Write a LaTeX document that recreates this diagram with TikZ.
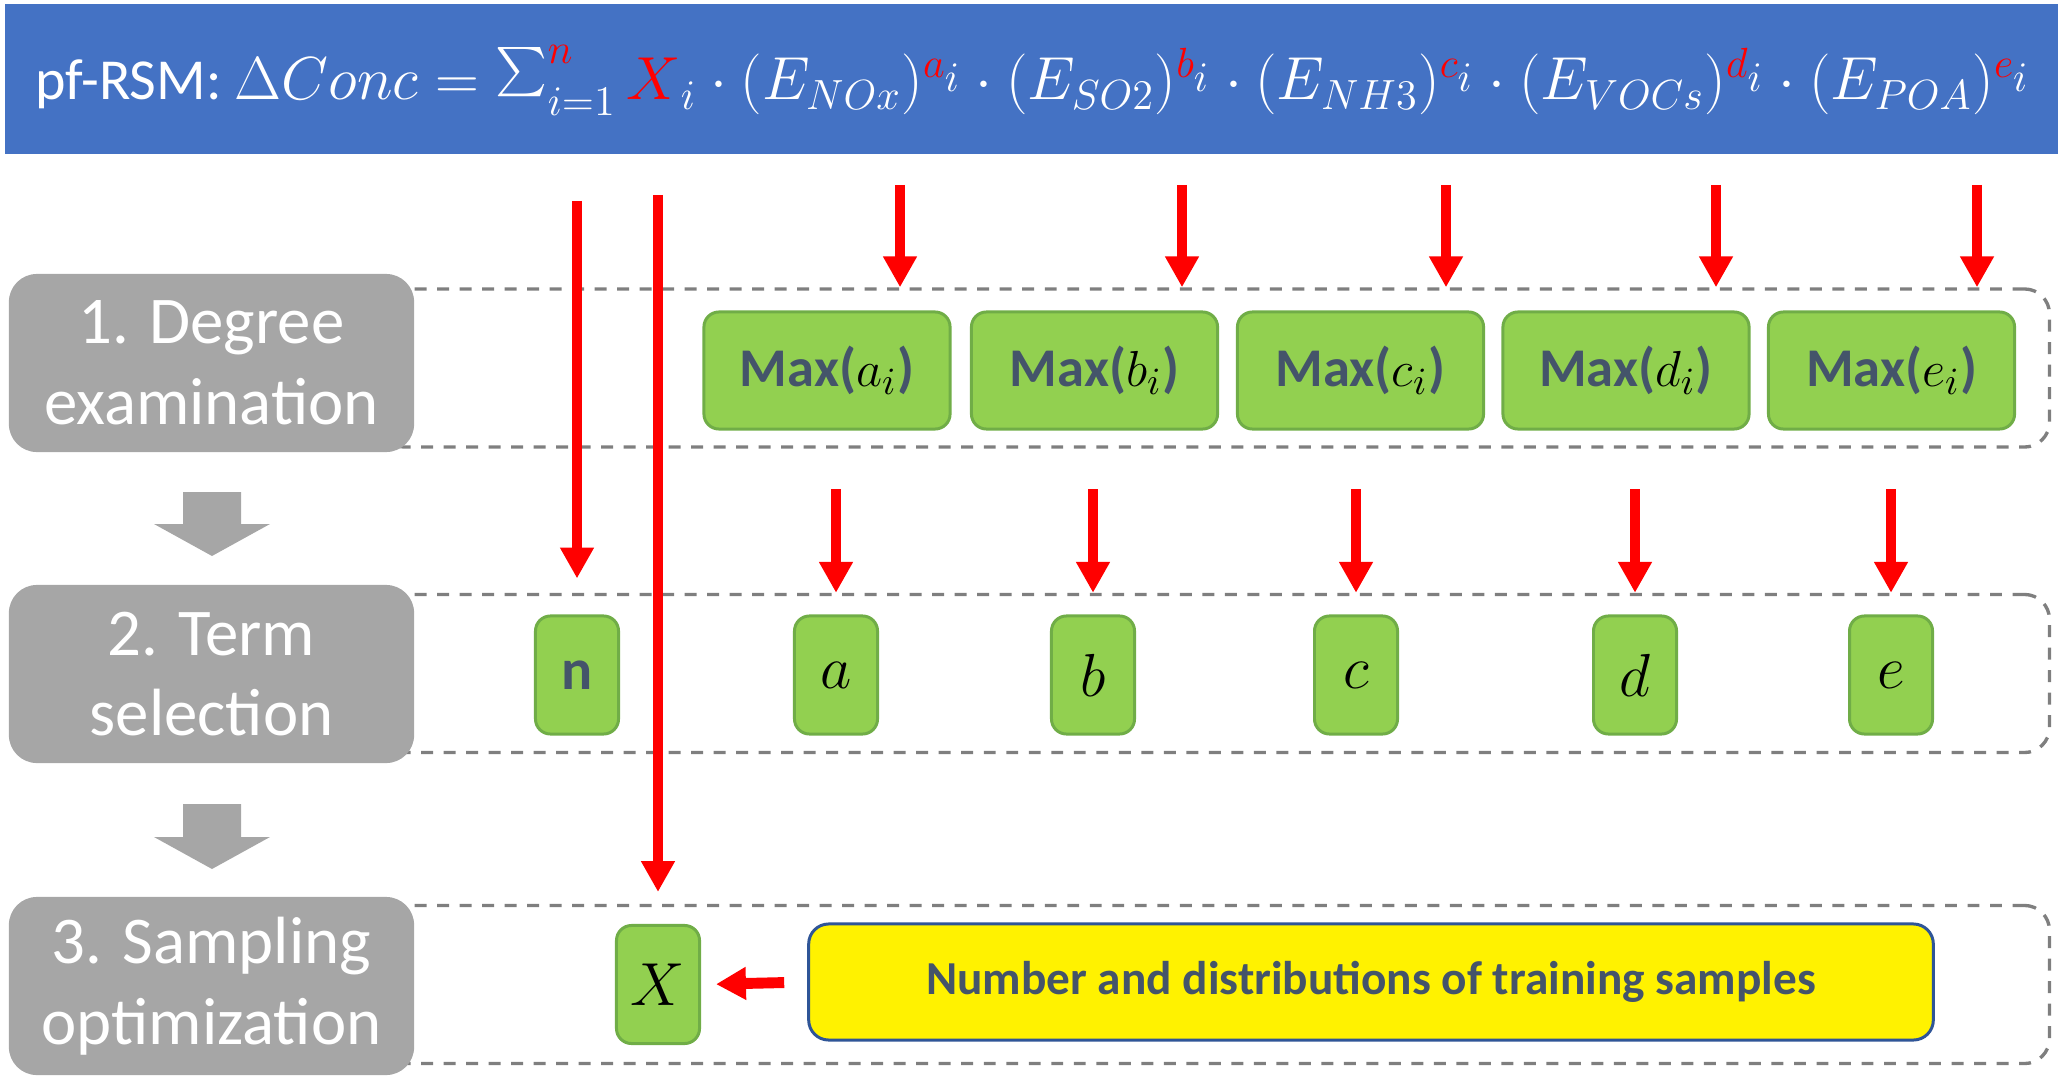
\documentclass[tikz,border=0pt]{standalone}
\usepackage[no-math]{fontspec}
\setmainfont{Carlito}
\usetikzlibrary{arrows.meta}
\definecolor{bannerblue}{HTML}{4472C4}
\definecolor{boxgray}{HTML}{A6A6A6}
\definecolor{dashgray}{HTML}{7F7F7F}
\definecolor{grfill}{HTML}{92D050}
\definecolor{grline}{HTML}{70AD47}
\definecolor{slate}{HTML}{44546A}
\definecolor{ylwline}{HTML}{2F5597}
\newcommand{\bigsum}{\mathop{\hbox{\raisebox{0.12em}{\scalebox{1.4}{$\textstyle\sum$}}}}\nolimits}
\newcommand{\rexp}[1]{^{{\scriptstyle{{\color{red}#1}}_{\scriptstyle i}}}}
\tikzset{
  stage/.style={fill=boxgray, rounded corners=0.28cm, minimum width=4.05cm, minimum height=1.78cm,
    text=white, align=center, inner sep=0pt, font=\fontsize{19}{23}\selectfont},
  dashrow/.style={draw=dashgray, line width=0.95pt, dash pattern=on 3.4pt off 3pt,
    rounded corners=0.25cm, minimum width=16.69cm, minimum height=1.58cm, inner sep=0pt},
  maxbox/.style={fill=grfill, draw=grline, line width=0.85pt, rounded corners=0.15cm,
    minimum width=2.46cm, minimum height=1.17cm, inner sep=0pt, text=slate,
    font=\bfseries\fontsize{15.5}{18}\selectfont},
  termbox/.style={fill=grfill, draw=grline, line width=0.85pt, rounded corners=0.15cm,
    minimum width=0.83cm, minimum height=1.18cm, inner sep=0pt, text=slate,
    font=\fontsize{17}{20}\selectfont},
  samplebox/.style={fill=yellow, draw=ylwline, line width=0.85pt, rounded corners=0.2cm,
    minimum width=11.24cm, minimum height=1.16cm, inner sep=0pt, text=slate,
    font=\bfseries\fontsize{13.45}{16}\selectfont},
  redarrow/.style={draw=red, line width=2.85pt, -{Triangle[width=9.1pt,length=8.8pt]}},
  redarrowb/.style={draw=red, line width=3.1pt, -{Triangle[width=8.8pt,length=8.5pt]}},
  flowarrow/.style={fill=boxgray},
}
\begin{document}
\begin{tikzpicture}[x=0.01cm,y=-0.01cm]
\useasboundingbox (0,0) rectangle (2067,1079);
% banner
\fill[bannerblue] (5,4) rectangle (2058,154);
\node[anchor=base, text=white, inner sep=0pt, font=\fontsize{16.5}{20}\selectfont] (title) at (1033,100)
 {pf-RSM: $\Delta Conc = \bigsum_{i=1}^{{\color{red}n}} {{\color{red}X}}_i \cdot (E_{NOx})\rexp{a} \cdot (E_{SO2})\rexp{b} \cdot (E_{NH3})\rexp{c} \cdot (E_{VOCs})\rexp{d} \cdot (E_{POA})\rexp{e}$};
% dashed rows
\node[dashrow] (row1) at (1214.5,368) {};
\node[dashrow] (row2) at (1214.5,673.5) {};
\node[dashrow] (row3) at (1214.5,984.5) {};
% stage boxes
\node[stage] (s1) at (211.5,363) {1. Degree\\examination};
\node[stage] (s2) at (211.5,674) {2. Term\\selection};
\node[stage] (s3) at (211.5,986) {3. Sampling\\optimization};
% flow arrows
\fill[flowarrow] (183,492) -- (241,492) -- (241,524) -- (270,524) -- (212,556) -- (154,524) -- (183,524) -- cycle;
\fill[flowarrow] (183,804) -- (241,804) -- (241,837) -- (270,837) -- (212,869) -- (154,837) -- (183,837) -- cycle;
% max boxes
\node[maxbox] (ma) at (827,370.5) {Max(\textcolor{black}{$a_i$})};
\node[maxbox] (mb) at (1094.5,370.5) {Max(\textcolor{black}{$b_i$})};
\node[maxbox] (mc) at (1360.5,370.5) {Max(\textcolor{black}{$c_i$})};
\node[maxbox] (md) at (1626,370.5) {Max(\textcolor{black}{$d_i$})};
\node[maxbox] (me) at (1891.5,370.5) {Max(\textcolor{black}{$e_i$})};
% term boxes
\node[termbox] (tn) at (577,675) {\bfseries\fontsize{16.5}{19}\selectfont n};
\node[termbox] (ta) at (836,675) {\textcolor{black}{$a$}};
\node[termbox] (tb) at (1093,675) {\textcolor{black}{$b$}};
\node[termbox] (tc) at (1356,675) {\textcolor{black}{$c$}};
\node[termbox] (td) at (1635,675) {\textcolor{black}{$d$}};
\node[termbox] (te) at (1891,675) {\textcolor{black}{$e$}};
% sampling row
\node[termbox] (tx) at (658,984.5) {\textcolor{black}{$X$}};
\node[samplebox] (ys) at (1371,982) {Number and distributions of training samples};
% helper coordinates
\coordinate (yA) at (0,201);
\coordinate (yB) at (0,195);
\coordinate (yD) at (0,489);
\coordinate (p1) at (900,185);
\coordinate (p2) at (1182,185);
\coordinate (p3) at (1446,185);
\coordinate (p4) at (1716,185);
\coordinate (p5) at (1977,185);
% top arrows
\foreach \p in {p1,p2,p3,p4,p5}{
  \draw[redarrow] (\p) -- (\p |- row1.north);
}
% long arrows
\draw[redarrow, shorten >=0.36cm] (tn |- yA) -- (tn.north);
\draw[redarrow, shorten >=0.32cm] (tx |- yB) -- (tx.north);
% short arrows row 2
\foreach \t in {ta,tb,tc,td,te}{
  \draw[redarrow] (\t |- yD) -- (\t |- row2.north);
}
% left arrow
\draw[redarrowb, shorten <=0.23cm, shorten >=0.15cm] (ys.west) -- (tx.east);
\end{tikzpicture}
\end{document}
